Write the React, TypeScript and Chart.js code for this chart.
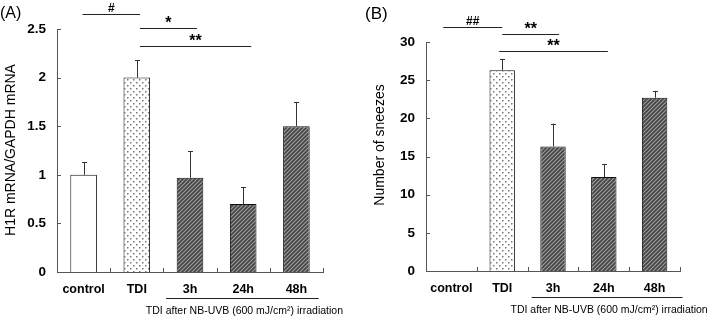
import React, { useEffect, useRef } from "react";
import { Chart, registerables } from "chart.js";
Chart.register(...registerables);

// ---------- data ----------
const categories = ["control", "TDI", "3h", "24h", "48h"];

const h1rMean = [1.0, 2.0, 0.97, 0.7, 1.5];
const h1rErr = [0.13, 0.18, 0.27, 0.17, 0.25];
const h1rTicks = [0, 0.5, 1, 1.5, 2, 2.5];

const sneezeMean = [0, 26.3, 16.3, 12.3, 22.7];
const sneezeErr = [0, 1.5, 3.0, 1.7, 0.9];
const sneezeTicks = [0, 5, 10, 15, 20, 25, 30];

const h1rSigLabels = ["#", "*", "**"];
const h1rSigFrom = [0, 1, 1];
const h1rSigTo = [1, 2, 3];
const h1rSigLevel = [2.65, 2.51, 2.325];

const sneezeSigLabels = ["##", "**", "**"];
const sneezeSigFrom = [0, 1, 1];
const sneezeSigTo = [1, 2, 3];
const sneezeSigLevel = [31.9, 31.0, 28.8];

const groupFrom = 2;
const groupTo = 4;
const groupCaption = "TDI after NB-UVB (600 mJ/cm\u00B2) irradiation";

const FONT = "'Liberation Sans', Arial, Helvetica, sans-serif";
const AXIS = "#555";

function makeDots(): CanvasPattern | string {
  const c = document.createElement("canvas");
  c.width = 6;
  c.height = 6;
  const g = c.getContext("2d");
  if (!g) return "#eee";
  g.fillStyle = "#ffffff";
  g.fillRect(0, 0, 6, 6);
  g.fillStyle = "#777";
  g.fillRect(1, 1, 1.5, 1.5);
  g.fillRect(4, 4, 1.5, 1.5);
  return g.createPattern(c, "repeat") || "#eee";
}

function makeHatch(): CanvasPattern | string {
  const s = 4;
  const c = document.createElement("canvas");
  c.width = s;
  c.height = s;
  const g = c.getContext("2d");
  if (!g) return "#666";
  g.fillStyle = "#454545";
  g.fillRect(0, 0, s, s);
  g.strokeStyle = "#a0a0a0";
  g.lineWidth = 1.1;
  g.beginPath();
  g.moveTo(0, s);
  g.lineTo(s, 0);
  g.moveTo(-1, 1);
  g.lineTo(1, -1);
  g.moveTo(s - 1, s + 1);
  g.lineTo(s + 1, s - 1);
  g.stroke();
  return g.createPattern(c, "repeat") || "#666";
}

type PanelProps = {
  width: number;
  height: number;
  left: number;
  tag: string;
  tagX: number;
  tagSize: number;
  yTitle: string;
  yTitleX: number;
  yTitleY: number;
  means: number[];
  errs: number[];
  ticks: number[];
  sigLabels: string[];
  sigFrom: number[];
  sigTo: number[];
  sigLevel: number[];
  sigFromOff: number[];
  sigToOff: number[];
  groupFromOff: number;
  groupToOff: number;
  areaLeft: number;
  areaRight: number;
  areaTop: number;
  areaBottom: number;
};

function Panel(p: PanelProps) {
  const ref = useRef<HTMLCanvasElement | null>(null);
  useEffect(() => {
    const canvas = ref.current;
    if (!canvas) return;
    const dots = makeDots();
    const hatch = makeHatch();
    const fills = ["#ffffff", dots, hatch, hatch, hatch];

    const overlay = {
      id: "overlay",
      afterDatasetsDraw(chart: any) {
        const ctx = chart.ctx as CanvasRenderingContext2D;
        const xs = chart.scales.x;
        const ys = chart.scales.y;
        const area = chart.chartArea;
        const catW = (area.right - area.left) / categories.length;
        ctx.save();
        // error bars
        const meta = chart.getDatasetMeta(0);
        meta.data.forEach((el: any, i: number) => {
          if (!p.errs[i]) return;
          const top = ys.getPixelForValue(p.means[i]);
          const et = ys.getPixelForValue(p.means[i] + p.errs[i]);
          ctx.strokeStyle = "#333";
          ctx.lineWidth = 1;
          ctx.beginPath();
          ctx.moveTo(Math.round(el.x) + 0.5, top);
          ctx.lineTo(Math.round(el.x) + 0.5, et);
          ctx.moveTo(Math.round(el.x) - 2, Math.round(et) + 0.5);
          ctx.lineTo(Math.round(el.x) + 3, Math.round(et) + 0.5);
          ctx.stroke();
        });
        // y ticks (inward)
        ctx.strokeStyle = AXIS;
        ctx.lineWidth = 1;
        ctx.beginPath();
        p.ticks.forEach((t) => {
          const y = Math.round(ys.getPixelForValue(t)) + 0.5;
          ctx.moveTo(area.left, y);
          ctx.lineTo(area.left + 4, y);
        });
        // x boundary ticks (inward)
        for (let i = 0; i < categories.length; i++) {
          const x = Math.round(xs.getPixelForValue(i) + catW / 2) + 0.5;
          ctx.moveTo(x, area.bottom);
          ctx.lineTo(x, area.bottom - 4);
        }
        ctx.stroke();
        // significance brackets
        ctx.strokeStyle = "#222";
        ctx.fillStyle = "#000";
        ctx.textAlign = "center";
        ctx.textBaseline = "alphabetic";
        p.sigLabels.forEach((lab, i) => {
          const x1 = xs.getPixelForValue(p.sigFrom[i]) + p.sigFromOff[i] * catW;
          const x2 = xs.getPixelForValue(p.sigTo[i]) + p.sigToOff[i] * catW;
          const y = Math.round(ys.getPixelForValue(p.sigLevel[i])) + 0.5;
          ctx.beginPath();
          ctx.moveTo(x1, y);
          ctx.lineTo(x2, y);
          ctx.stroke();
          const star = lab.indexOf("*") >= 0;
          ctx.font = star ? `bold 16px ${FONT}` : `bold 12px ${FONT}`;
          ctx.fillText(lab, (x1 + x2) / 2, star ? y - 0.5 : y - 3);
        });
        // group underline + caption
        const g1 = xs.getPixelForValue(groupFrom) + p.groupFromOff * catW;
        const g2 = xs.getPixelForValue(groupTo) + p.groupToOff * catW;
        const gy = area.bottom + 26.5;
        ctx.beginPath();
        ctx.moveTo(g1, gy);
        ctx.lineTo(g2, gy);
        ctx.stroke();
        ctx.font = `10.5px ${FONT}`;
        ctx.textBaseline = "middle";
        ctx.fillText(groupCaption, (g1 + g2) / 2 + 2, area.bottom + 39);
        // y title
        ctx.save();
        ctx.translate(p.yTitleX, p.yTitleY);
        ctx.rotate(-Math.PI / 2);
        ctx.font = `14px ${FONT}`;
        ctx.textAlign = "center";
        ctx.textBaseline = "middle";
        ctx.fillText(p.yTitle, 0, 0);
        ctx.restore();
        // panel tag
        ctx.font = `${p.tagSize}px ${FONT}`;
        ctx.textAlign = "left";
        ctx.textBaseline = "middle";
        ctx.fillText(p.tag, p.tagX, 14);
        ctx.restore();
      },
    };

    const chart = new Chart(canvas, {
      type: "bar",
      data: {
        labels: categories,
        datasets: [
          {
            data: p.means,
            backgroundColor: fills as any,
            borderColor: "#111",
            borderWidth: 1,
            barPercentage: 0.5,
            categoryPercentage: 1,
          },
        ],
      },
      options: {
        responsive: false,
        animation: false,
        events: [],
        layout: {
          padding: {
            left: 0,
            right: p.width - p.areaRight,
            top: p.areaTop,
            bottom: 0,
          },
        },
        plugins: {
          legend: { display: false },
          tooltip: { enabled: false },
          title: { display: false },
        },
        scales: {
          x: {
            grid: { display: false, drawTicks: false },
            border: { display: true, color: AXIS, width: 1 },
            ticks: {
              color: "#000",
              font: { family: FONT, size: 12.5, weight: "bold" },
              padding: 10,
              maxRotation: 0,
            },
            afterFit: (s: any) => {
              s.height = p.height - p.areaBottom;
            },
          },
          y: {
            min: p.ticks[0],
            max: p.ticks[p.ticks.length - 1],
            afterBuildTicks: (s: any) => {
              s.ticks = p.ticks.map((v) => ({ value: v }));
            },
            grid: { display: false, drawTicks: false },
            border: { display: true, color: AXIS, width: 1 },
            ticks: {
              color: "#000",
              font: { family: FONT, size: 13.5, weight: "bold" },
              padding: 11,
              callback: (v: any) => String(v),
            },
            afterFit: (s: any) => {
              s.width = p.areaLeft;
            },
          },
        },
      },
      plugins: [overlay],
    });
    return () => chart.destroy();
  }, []);
  return (
    <canvas
      ref={ref}
      width={p.width}
      height={p.height}
      style={{ position: "absolute", left: p.left, top: 0, width: p.width, height: p.height }}
    />
  );
}

export default function App() {
  useEffect(() => {
    document.body.style.margin = "0";
    document.body.style.background = "#fff";
  }, []);
  return (
    <div style={{ position: "relative", width: 709, height: 318, background: "#fff", overflow: "hidden" }}>
      <Panel
        width={360}
        height={318}
        left={0}
        tag="(A)"
        tagX={0}
        tagSize={16}
        yTitle="H1R mRNA/GAPDH mRNA"
        yTitleX={11}
        yTitleY={150}
        means={h1rMean}
        errs={h1rErr}
        ticks={h1rTicks}
        sigLabels={h1rSigLabels}
        sigFrom={h1rSigFrom}
        sigTo={h1rSigTo}
        sigLevel={h1rSigLevel}
        sigFromOff={[-0.02, 0.06, 0.06]}
        sigToOff={[0.06, 0.13, 0.15]}
        groupFromOff={-0.45}
        groupToOff={0.42}
        areaLeft={57}
        areaRight={323}
        areaTop={29}
        areaBottom={272}
      />
      <Panel
        width={349}
        height={318}
        left={360}
        tag="(B)"
        tagX={5}
        tagSize={17}
        yTitle="Number of sneezes"
        yTitleX={20}
        yTitleY={145}
        means={sneezeMean}
        errs={sneezeErr}
        ticks={sneezeTicks}
        sigLabels={sneezeSigLabels}
        sigFrom={sneezeSigFrom}
        sigTo={sneezeSigTo}
        sigLevel={sneezeSigLevel}
        sigFromOff={[-0.16, 0, -0.06]}
        sigToOff={[0, 0.12, 0.08]}
        groupFromOff={-0.42}
        groupToOff={0.55}
        areaLeft={66}
        areaRight={320}
        areaTop={42}
        areaBottom={271}
      />
    </div>
  );
}
